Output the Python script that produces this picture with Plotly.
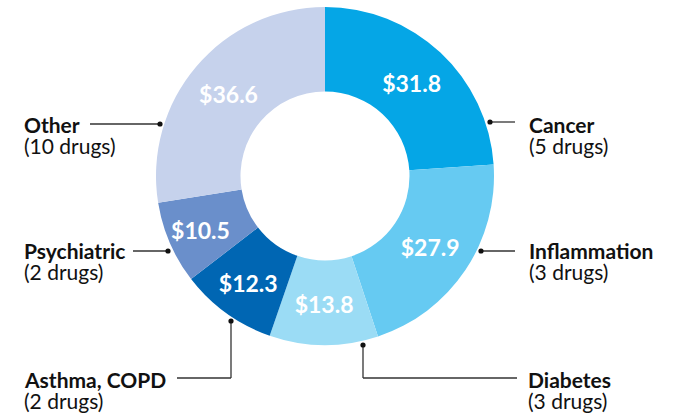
import plotly.graph_objects as go

categories = ["Cancer", "Inflammation", "Diabetes", "Asthma, COPD", "Psychiatric", "Other"]
drug_counts = ["(5 drugs)", "(3 drugs)", "(3 drugs)", "(2 drugs)", "(2 drugs)", "(10 drugs)"]
values = [31.8, 27.9, 13.8, 12.3, 10.5, 36.6]
colors = ["#05a6e6", "#66caf2", "#9bdcf5", "#0066b3", "#6a8fcb", "#c6d2ec"]

W, H = 674, 414
FONT = "Lato"


def px(x):
    return x / W


def py(y):
    return 1 - y / H


fig = go.Figure()
fig.add_trace(go.Pie(
    labels=categories,
    values=values,
    text=["$" + f"{v:.1f}" for v in values],
    textinfo="text",
    textposition="inside",
    insidetextorientation="horizontal",
    textfont=dict(family=FONT, size=23, color="white", weight="bold"),
    marker=dict(colors=colors, line=dict(width=0)),
    hole=0.5,
    sort=False,
    direction="clockwise",
    rotation=0,
    showlegend=False,
    domain=dict(x=[px(156), px(494)], y=[py(345), py(7)]),
    hoverinfo="label+value",
))

label_layout = {
    "Cancer": dict(x=527, y=124),
    "Inflammation": dict(x=527, y=250),
    "Diabetes": dict(x=526, y=379),
    "Asthma, COPD": dict(x=22, y=379),
    "Psychiatric": dict(x=22, y=250),
    "Other": dict(x=22, y=124),
}

annotations = []
for cat, cnt in zip(categories, drug_counts):
    p = label_layout[cat]
    annotations.append(dict(
        x=px(p["x"]), y=py(p["y"]), xref="paper", yref="paper",
        text="<b>" + cat + "</b>", showarrow=False, xanchor="left", yanchor="middle",
        font=dict(family=FONT, size=21, color="#111111"),
    ))
    annotations.append(dict(
        x=px(p["x"]), y=py(p["y"] + 21), xref="paper", yref="paper",
        text=cnt, showarrow=False, xanchor="left", yanchor="middle",
        font=dict(family=FONT, size=21, color="#111111"),
    ))

line_col = "#333333"
segments = [
    [(490, 122), (515, 122)],
    [(481, 251), (515, 251)],
    [(363, 345), (363, 378), (517, 378)],
    [(231, 321), (231, 378), (177, 378)],
    [(168, 251), (133, 251)],
    [(160, 124), (90, 124)],
]
shapes = []
for seg in segments:
    for (x0, y0), (x1, y1) in zip(seg[:-1], seg[1:]):
        shapes.append(dict(type="line", xref="paper", yref="paper",
                           x0=px(x0), y0=py(y0), x1=px(x1), y1=py(y1),
                           line=dict(color=line_col, width=1.3)))
    dx, dy = seg[0]
    r = 2.6
    shapes.append(dict(type="circle", xref="paper", yref="paper",
                       x0=px(dx - r), x1=px(dx + r), y0=py(dy + r), y1=py(dy - r),
                       fillcolor="#111111", line=dict(width=0)))

fig.update_layout(
    width=W, height=H,
    margin=dict(l=0, r=0, t=0, b=0),
    paper_bgcolor="white", plot_bgcolor="white",
    annotations=annotations,
    shapes=shapes,
    font=dict(family=FONT),
)

fig.write_html("out.html", config={"displayModeBar": False},
               post_script="document.body.style.margin='0';")
